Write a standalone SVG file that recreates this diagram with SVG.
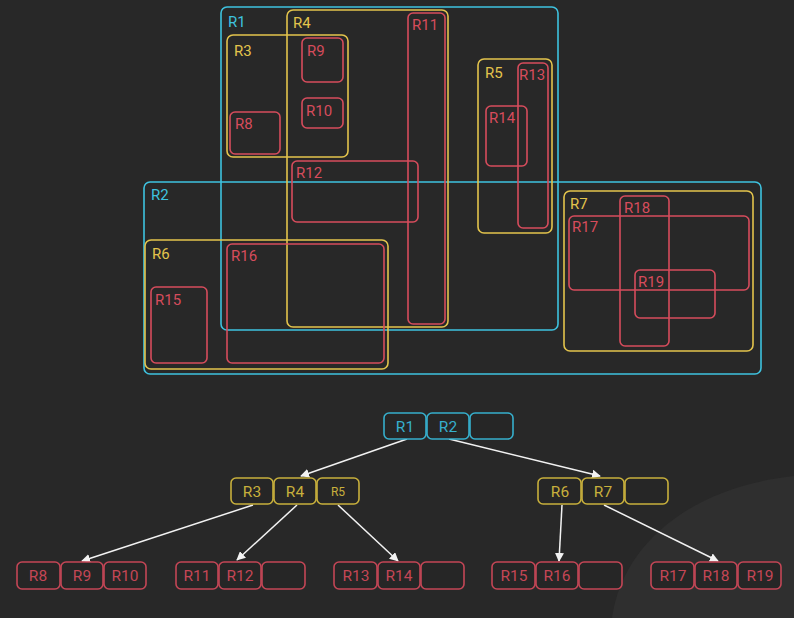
<svg xmlns="http://www.w3.org/2000/svg" width="794" height="618" viewBox="0 0 794 618">
<defs>
<style>
.c{stroke:#3ec2df}
.y{stroke:#e3c44c}
.r{stroke:#d64c5c}
.reg{fill:none;stroke-width:1.6}
.tc{fill:#3ec2df}
.ty{fill:#e3c44c}
.tr{fill:#d64c5c}
.lbl{font-family:Roboto,"Noto Sans",sans-serif;font-size:15px}
.cell{fill:#262626;stroke-width:1.6}
.ct{font-family:Roboto,"Noto Sans",sans-serif;font-size:15.5px;text-anchor:middle}
.cc{stroke:#36afcc}
.cy{stroke:#c8b03c}
.cr{stroke:#c44656}
.fc{fill:#36afcc}
.fy{fill:#c8b03c}
.fr{fill:#c44656}
.edge{stroke:#f2f2f2;stroke-width:1.5;fill:none;marker-end:url(#ah)}
</style>
<marker id="ah" viewBox="0 0 10 10" refX="9" refY="5" markerWidth="9" markerHeight="9" markerUnits="userSpaceOnUse" orient="auto">
<path d="M0,0 L10,5 L0,10 Z" fill="#f2f2f2"/>
</marker>
</defs>
<rect x="0" y="0" width="794" height="618" fill="#282828"/>
<path d="M612,618 C622,545 690,487 794,476 L794,618 Z" fill="#2f2f2f"/>

<g id="regions">
<g id="reg-R1"><rect class="reg c" x="221" y="7" width="337" height="323" rx="6"/><text class="lbl tc" x="228" y="27">R1</text></g>
<g id="reg-R2"><rect class="reg c" x="144" y="182" width="617" height="192" rx="6"/><text class="lbl tc" x="151" y="200">R2</text></g>
<g id="reg-R3"><rect class="reg y" x="227" y="35" width="121" height="122" rx="6"/><text class="lbl ty" x="234" y="56">R3</text></g>
<g id="reg-R4"><rect class="reg y" x="287" y="10" width="161" height="317" rx="6"/><text class="lbl ty" x="293" y="28">R4</text></g>
<g id="reg-R5"><rect class="reg y" x="478" y="59" width="74" height="174" rx="6"/><text class="lbl ty" x="485" y="78">R5</text></g>
<g id="reg-R6"><rect class="reg y" x="145" y="240" width="243" height="129" rx="6"/><text class="lbl ty" x="152" y="259">R6</text></g>
<g id="reg-R7"><rect class="reg y" x="564" y="191" width="189" height="160" rx="6"/><text class="lbl ty" x="570" y="209">R7</text></g>
<g id="reg-R8"><rect class="reg r" x="230" y="112" width="50" height="42" rx="5"/><text class="lbl tr" x="235" y="129">R8</text></g>
<g id="reg-R9"><rect class="reg r" x="302" y="38" width="41" height="44" rx="5"/><text class="lbl tr" x="307" y="56">R9</text></g>
<g id="reg-R10"><rect class="reg r" x="302" y="98" width="41" height="30" rx="5"/><text class="lbl tr" x="306" y="116">R10</text></g>
<g id="reg-R11"><rect class="reg r" x="408" y="13" width="37" height="311" rx="5"/><text class="lbl tr" x="412" y="30">R11</text></g>
<g id="reg-R12"><rect class="reg r" x="292" y="161" width="126" height="61" rx="5"/><text class="lbl tr" x="296" y="178">R12</text></g>
<g id="reg-R13"><rect class="reg r" x="518" y="63" width="30" height="165" rx="5"/><text class="lbl tr" x="519" y="80">R13</text></g>
<g id="reg-R14"><rect class="reg r" x="486" y="106" width="41" height="60" rx="5"/><text class="lbl tr" x="489" y="123">R14</text></g>
<g id="reg-R15"><rect class="reg r" x="151" y="287" width="56" height="76" rx="5"/><text class="lbl tr" x="155" y="305">R15</text></g>
<g id="reg-R16"><rect class="reg r" x="227" y="244" width="157" height="119" rx="5"/><text class="lbl tr" x="231" y="261">R16</text></g>
<g id="reg-R17"><rect class="reg r" x="569" y="216" width="180" height="74" rx="5"/><text class="lbl tr" x="572" y="232">R17</text></g>
<g id="reg-R18"><rect class="reg r" x="620" y="196" width="49" height="150" rx="5"/><text class="lbl tr" x="624" y="213">R18</text></g>
<g id="reg-R19"><rect class="reg r" x="635" y="270" width="80" height="48" rx="5"/><text class="lbl tr" x="638" y="287">R19</text></g>
</g>

<g id="connectors">
<line class="edge" x1="407" y1="439" x2="301" y2="476"/>
<line class="edge" x1="449" y1="439" x2="600" y2="476"/>
<line class="edge" x1="253" y1="505" x2="82" y2="561"/>
<line class="edge" x1="297" y1="505" x2="237" y2="560"/>
<line class="edge" x1="338" y1="505" x2="398" y2="561"/>
<line class="edge" x1="562" y1="505" x2="559" y2="561"/>
<line class="edge" x1="604" y1="505" x2="718" y2="561"/>
</g>

<g id="node-root">
<rect class="cell cc" x="384" y="413" width="42" height="26" rx="5"/><text class="ct fc" x="405" y="432">R1</text>
<rect class="cell cc" x="427" y="413" width="42" height="26" rx="5"/><text class="ct fc" x="448" y="432">R2</text>
<rect class="cell cc" x="470" y="413" width="43" height="26" rx="5"/>
</g>
<g id="node-R3R4R5">
<rect class="cell cy" x="231" y="478" width="42" height="26" rx="5"/><text class="ct fy" x="252" y="497">R3</text>
<rect class="cell cy" x="274" y="478" width="42" height="26" rx="5"/><text class="ct fy" x="295" y="497">R4</text>
<rect class="cell cy" x="317" y="478" width="42" height="26" rx="5"/><text class="ct fy" x="338" y="496" style="font-size:12px">R5</text>
</g>
<g id="node-R6R7">
<rect class="cell cy" x="538" y="478" width="43" height="26" rx="5"/><text class="ct fy" x="560" y="497">R6</text>
<rect class="cell cy" x="582" y="478" width="42" height="26" rx="5"/><text class="ct fy" x="603" y="497">R7</text>
<rect class="cell cy" x="625" y="478" width="43" height="26" rx="5"/>
</g>
<g id="node-R8R9R10">
<rect class="cell cr" x="17" y="562" width="43" height="27" rx="5"/><text class="ct fr" x="38" y="581">R8</text>
<rect class="cell cr" x="61" y="562" width="42" height="27" rx="5"/><text class="ct fr" x="82" y="581">R9</text>
<rect class="cell cr" x="104" y="562" width="42" height="27" rx="5"/><text class="ct fr" x="125" y="581">R10</text>
</g>
<g id="node-R11R12">
<rect class="cell cr" x="176" y="562" width="42" height="27" rx="5"/><text class="ct fr" x="197" y="581">R11</text>
<rect class="cell cr" x="219" y="562" width="42" height="27" rx="5"/><text class="ct fr" x="240" y="581">R12</text>
<rect class="cell cr" x="262" y="562" width="43" height="27" rx="5"/>
</g>
<g id="node-R13R14">
<rect class="cell cr" x="334" y="562" width="43" height="27" rx="5"/><text class="ct fr" x="356" y="581">R13</text>
<rect class="cell cr" x="378" y="562" width="42" height="27" rx="5"/><text class="ct fr" x="399" y="581">R14</text>
<rect class="cell cr" x="421" y="562" width="43" height="27" rx="5"/>
</g>
<g id="node-R15R16">
<rect class="cell cr" x="492" y="562" width="43" height="27" rx="5"/><text class="ct fr" x="514" y="581">R15</text>
<rect class="cell cr" x="536" y="562" width="42" height="27" rx="5"/><text class="ct fr" x="557" y="581">R16</text>
<rect class="cell cr" x="579" y="562" width="43" height="27" rx="5"/>
</g>
<g id="node-R17R18R19">
<rect class="cell cr" x="651" y="562" width="43" height="27" rx="5"/><text class="ct fr" x="673" y="581">R17</text>
<rect class="cell cr" x="695" y="562" width="42" height="27" rx="5"/><text class="ct fr" x="716" y="581">R18</text>
<rect class="cell cr" x="738" y="562" width="43" height="27" rx="5"/><text class="ct fr" x="760" y="581">R19</text>
</g>
</svg>
